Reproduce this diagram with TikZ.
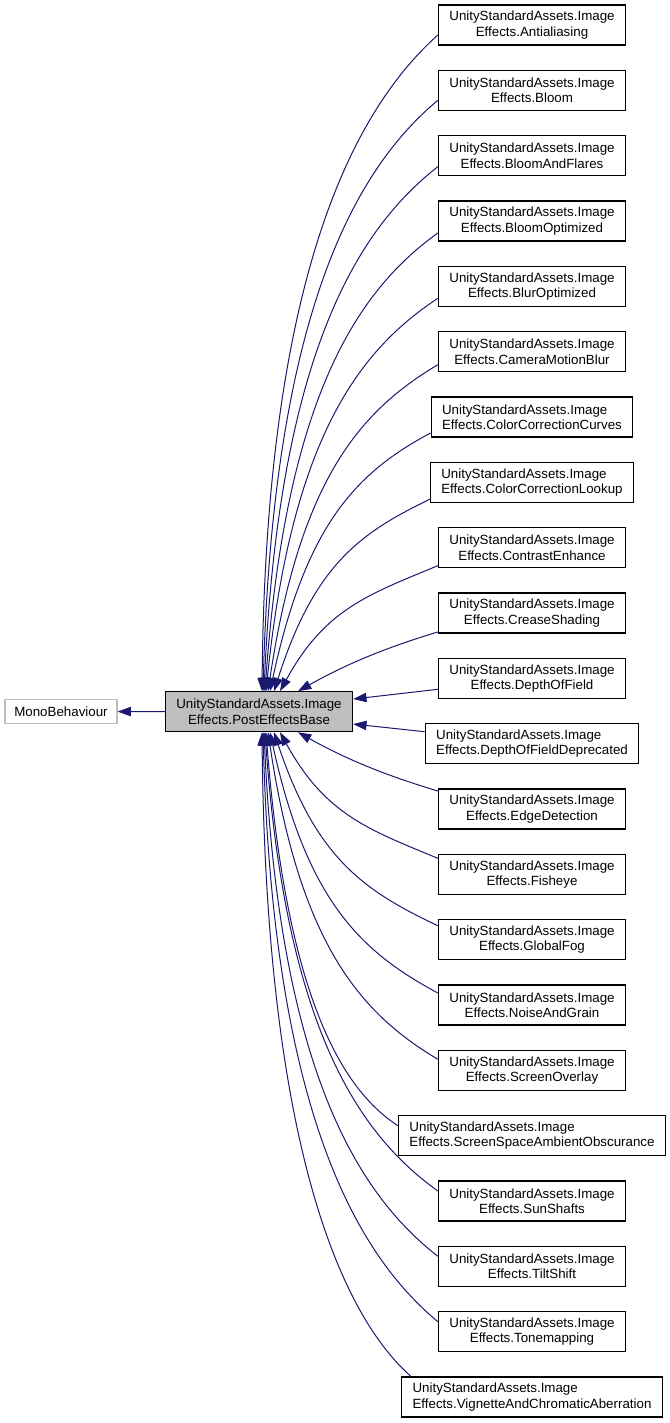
\documentclass[tikz,border=0pt]{standalone}
\usepackage{fontspec}
\setmainfont{Liberation Sans}
\usetikzlibrary{arrows.meta}
\definecolor{edgeblue}{RGB}{25,25,112}

\begin{document}
\begin{tikzpicture}[
    x=0.75pt, y=-0.75pt,
    cls/.style={rectangle, draw, line width=0.8pt, minimum height=30pt, inner xsep=8.25pt, inner ysep=0pt, align=center, font=\fontsize{10pt}{11.5pt}\selectfont},
    wide/.style={cls, align=left},
    cur/.style={cls, fill=black!25},
    ext/.style={cls, draw=black!25, minimum height=18.5pt, inner xsep=7pt},
    inh/.style={-{Triangle[length=10pt, width=7pt]}, draw=edgeblue, line width=0.75pt}
]
    \useasboundingbox (0,0) rectangle (669,1423);

    % Base classes
    \node[ext] (mono) at (61,711.5) {MonoBehaviour};
    \node[cur] (pe) at (259,711.7) {UnityStandardAssets.Image\\Effects.PostEffectsBase};
    \draw[inh] (pe) -- (mono);

    % Derived classes
    \node[cls] (d0) at (532,25) {UnityStandardAssets.Image\\Effects.Antialiasing};
    \node[cls] (d1) at (532,90.3) {UnityStandardAssets.Image\\Effects.Bloom};
    \node[cls] (d2) at (532,155.7) {UnityStandardAssets.Image\\Effects.BloomAndFlares};
    \node[cls] (d3) at (532,221) {UnityStandardAssets.Image\\Effects.BloomOptimized};
    \node[cls] (d4) at (532,286.3) {UnityStandardAssets.Image\\Effects.BlurOptimized};
    \node[cls] (d5) at (532,351.7) {UnityStandardAssets.Image\\Effects.CameraMotionBlur};
    \node[wide] (d6) at (532,417) {UnityStandardAssets.Image\\Effects.ColorCorrectionCurves};
    \node[wide] (d7) at (532,482.3) {UnityStandardAssets.Image\\Effects.ColorCorrectionLookup};
    \node[cls] (d8) at (532,547.7) {UnityStandardAssets.Image\\Effects.ContrastEnhance};
    \node[cls] (d9) at (532,613) {UnityStandardAssets.Image\\Effects.CreaseShading};
    \node[cls] (d10) at (532,678.3) {UnityStandardAssets.Image\\Effects.DepthOfField};
    \node[wide] (d11) at (532,743.7) {UnityStandardAssets.Image\\Effects.DepthOfFieldDeprecated};
    \node[cls] (d12) at (532,809) {UnityStandardAssets.Image\\Effects.EdgeDetection};
    \node[cls] (d13) at (532,874.3) {UnityStandardAssets.Image\\Effects.Fisheye};
    \node[cls] (d14) at (532,939.7) {UnityStandardAssets.Image\\Effects.GlobalFog};
    \node[cls] (d15) at (532,1005) {UnityStandardAssets.Image\\Effects.NoiseAndGrain};
    \node[cls] (d16) at (532,1070.3) {UnityStandardAssets.Image\\Effects.ScreenOverlay};
    \node[wide] (d17) at (532,1135.7) {UnityStandardAssets.Image\\Effects.ScreenSpaceAmbientObscurance};
    \node[cls] (d18) at (532,1201) {UnityStandardAssets.Image\\Effects.SunShafts};
    \node[cls] (d19) at (532,1266.3) {UnityStandardAssets.Image\\Effects.TiltShift};
    \node[cls] (d20) at (532,1331.7) {UnityStandardAssets.Image\\Effects.Tonemapping};
    \node[wide] (d21) at (532,1397) {UnityStandardAssets.Image\\Effects.VignetteAndChromaticAberration};

    % Edges to the top
    \draw[inh] ([yshift=-7.5pt]d0.west) .. controls +(-79,71) and +(4,-427) .. ([xshift=2.25pt]pe.north);
    \draw[inh] ([yshift=-7.5pt]d1.west) .. controls +(-79,66) and +(10,-385) .. ([xshift=3pt]pe.north);
    \draw[inh] ([yshift=-8.25pt]d2.west) .. controls +(-78,61) and +(15,-341) .. ([xshift=3.75pt]pe.north);
    \draw[inh] ([yshift=-9pt]d3.west) .. controls +(-78,56) and +(21,-298) .. ([xshift=4.5pt]pe.north);
    \draw[inh] ([yshift=-9pt]d4.west) .. controls +(-77,51) and +(26,-256) .. ([xshift=5.25pt]pe.north);
    \draw[inh] ([yshift=-9.75pt]d5.west) .. controls +(-77,46) and +(32,-213) .. ([xshift=6.75pt]pe.north);
    \draw[inh] ([yshift=-12pt]d6.west) .. controls +(-73,39) and +(36,-168) .. ([xshift=8.25pt]pe.north);
    \draw[inh] ([yshift=-12.75pt]d7.west) .. controls +(-71,34) and +(40,-125) .. ([xshift=11.25pt]pe.north);
    \draw[inh] ([yshift=-13.5pt]d8.west) .. controls +(-70,29) and +(45,-82) .. ([xshift=15.75pt]pe.north);
    \draw[inh] ([yshift=-14.25pt]d9.west) .. controls +(-50,15) and +(50,-28) .. ([xshift=29.25pt]pe.north);

    % Edges to the side
    \draw[inh] ([yshift=-8.25pt]d10.west) -- ([yshift=9.5pt]pe.east);
    \draw[inh] ([yshift=9pt]d11.west) -- ([yshift=-9.25pt]pe.east);

    % Edges to the bottom
    \draw[inh] ([yshift=13.5pt]d12.west) .. controls +(-50,-15) and +(50,28) .. ([xshift=29.25pt]pe.south);
    \draw[inh] ([yshift=12pt]d13.west) .. controls +(-70,-29) and +(45,82) .. ([xshift=15.75pt]pe.south);
    \draw[inh] ([yshift=10.5pt]d14.west) .. controls +(-74,-35) and +(42,126) .. ([xshift=11.25pt]pe.south);
    \draw[inh] ([yshift=9pt]d15.west) .. controls +(-76,-41) and +(37,170) .. ([xshift=8.25pt]pe.south);
    \draw[inh] ([yshift=8.25pt]d16.west) .. controls +(-77,-46) and +(32,213) .. ([xshift=6.75pt]pe.south);
    \draw[inh] ([yshift=7.5pt]d17.west) .. controls +(-60,-39) and +(20,256) .. ([xshift=5.25pt]pe.south);
    \draw[inh] ([yshift=7.5pt]d18.west) .. controls +(-78,-56) and +(21,298) .. ([xshift=4.5pt]pe.south);
    \draw[inh] ([yshift=7.5pt]d19.west) .. controls +(-78,-61) and +(15,341) .. ([xshift=3.75pt]pe.south);
    \draw[inh] ([yshift=7.5pt]d20.west) .. controls +(-79,-66) and +(10,384) .. ([xshift=3pt]pe.south);
    \draw[inh] ([xshift=7.5pt]d21.north west) .. controls +(-68,-60) and +(4,419) .. ([xshift=2.25pt]pe.south);
\end{tikzpicture}
\end{document}
